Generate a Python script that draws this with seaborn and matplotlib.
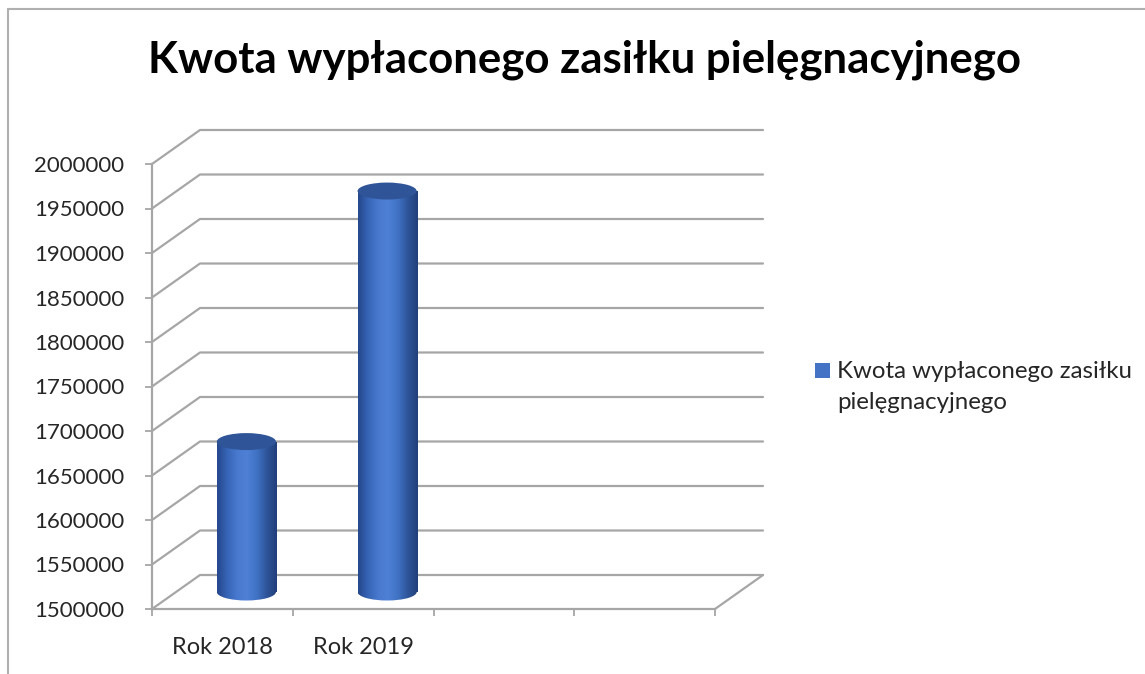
import matplotlib.pyplot as plt
import numpy as np
import pandas as pd
import seaborn as sns
from matplotlib.colors import LinearSegmentedColormap
from matplotlib.lines import Line2D
from matplotlib.patches import Ellipse, Patch, Rectangle

years = ["Rok 2018", "Rok 2019"]
amounts = [1669000, 1950500]
y_ticks = list(range(1500000, 2000001, 50000))
series_name = "Kwota wypłaconego zasiłku pielęgnacyjnego"
legend_label = "Kwota wypłaconego zasiłku\npielęgnacyjnego"

W, H = 1145, 674
sns.set_style("white")
plt.rcParams["font.family"] = ["Lato", "DejaVu Sans"]

fig = plt.figure(figsize=(W / 100, H / 100), dpi=100)
# axes = front plane of the 3d box
ax = fig.add_axes([152 / W, 1 - 609 / H, (715 - 152) / W, (609 - 164) / H])

df = pd.DataFrame({"rok": years, "kwota": amounts})
sns.barplot(data=df, x="rok", y="kwota", color="#4472C4", width=0.42, ax=ax)

base, top = y_ticks[0], y_ticks[-1]
px_x = 4 / (715 - 152)
px_y = (top - base) / (609 - 164)
dx, dy = 48 * px_x, 34 * px_y   # depth of the box
grid = "#a6a6a6"

# side wall diagonals + back wall gridlines
for v in y_ticks:
    ax.plot([-0.5, -0.5 + dx, 3.5 + dx], [v, v + dy, v + dy],
            color=grid, lw=1.6, clip_on=False, zorder=1)
ax.plot([3.5, 3.5 + dx], [base, base + dy], color=grid, lw=1.6, clip_on=False, zorder=1)

# turn the flat bars into cylinders standing in the middle of the depth
cmap = LinearSegmentedColormap.from_list(
    "cyl", ["#25478b", "#3664b5", "#4879cf", "#4e80d6", "#4072c4", "#2e5499", "#223f7a"])
grad = np.linspace(0, 1, 256).reshape(1, -1)
ell_h = 17 * px_y
for bar in list(ax.patches):
    w = bar.get_width()
    x0 = bar.get_x() + dx / 2
    v = bar.get_height()
    y0 = base + dy / 2
    y1 = v + dy / 2
    bar.set_x(x0)
    bar.set_y(y0)
    bar.set_height(v - base)
    bar.set_facecolor("none")
    bar.set_edgecolor("none")
    bottom = Ellipse((x0 + w / 2, y0), w, ell_h, transform=ax.transData)
    for clip in (bar, bottom):
        im = ax.imshow(grad, extent=[x0, x0 + w, y0 - ell_h, y1], aspect="auto",
                       cmap=cmap, zorder=3, interpolation="bilinear")
        im.set_clip_path(clip)
    ax.add_patch(Ellipse((x0 + w / 2, y1), w, ell_h, facecolor="#2f5598",
                         edgecolor="none", zorder=4))

ax.set_xlim(-0.5, 3.5)
ax.set_ylim(base, top)
ax.set_xlabel("")
ax.set_ylabel("")

for side in ("top", "right"):
    ax.spines[side].set_visible(False)
for side in ("left", "bottom"):
    ax.spines[side].set_color(grid)
    ax.spines[side].set_linewidth(1.6)

ax.set_yticks(y_ticks)
ax.set_yticklabels([str(t) for t in y_ticks])
ax.set_xticks([-0.5, 0.5, 1.5, 2.5, 3.5])
ax.set_xticklabels([])
ax.set_xticks([0, 1], years, minor=True)
ax.tick_params(axis="x", which="major", bottom=True, length=5, width=1.3, color=grid)
ax.tick_params(axis="x", which="minor", bottom=True, length=0, pad=20, labelsize=17)
ax.tick_params(axis="y", left=True, length=5, width=1.3, color=grid, pad=15, labelsize=16)

fig.text(585 / W, 1 - 60 / H, series_name, ha="center", va="center",
         fontsize=31.5, fontweight="bold", color="black")


class TopSquare:
    # legend key placed next to the first line of a two-line label
    def legend_artist(self, legend, orig_handle, fontsize, handlebox):
        w, h = handlebox.width, handlebox.height
        r = Rectangle((0, 13), w, h, facecolor=orig_handle.get_facecolor(),
                      edgecolor="none", transform=handlebox.get_transform())
        handlebox.add_artist(r)
        return r


key = Patch(facecolor="#4472C4")
leg = fig.legend(handles=[key], labels=[legend_label], loc="upper left",
                 bbox_to_anchor=(815 / W, 1 - 361 / H), frameon=False,
                 fontsize=17.3, handlelength=0.62, handleheight=0.58,
                 handletextpad=0.3, borderpad=0, borderaxespad=0,
                 handler_map={Patch: TopSquare()})
for t in leg.get_texts():
    t.set_linespacing(1.6)

# chart area border (top and left edges visible)
fig.add_artist(Line2D([8 / W, 1], [1 - 9 / H, 1 - 9 / H], transform=fig.transFigure,
                      color="#b0b0b0", lw=1.5))
fig.add_artist(Line2D([8 / W, 8 / W], [0, 1 - 9 / H], transform=fig.transFigure,
                      color="#b0b0b0", lw=1.5))

fig.savefig("out.png", dpi=100)
